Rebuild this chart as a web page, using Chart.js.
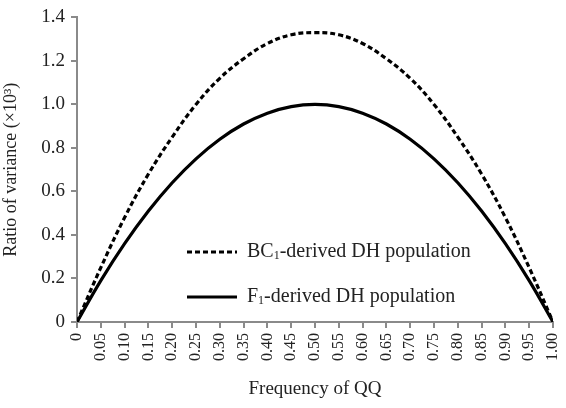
<!DOCTYPE html>
<html>
<head>
<meta charset="utf-8">
<script src="https://cdn.jsdelivr.net/npm/chart.js@4/dist/chart.umd.min.js"></script>
<style>
  html, body { margin: 0; padding: 0; background: #fff; }
  #wrap { width: 566px; height: 408px; }
</style>
</head>
<body>
<div id="wrap"><canvas id="chart" width="566" height="408"></canvas></div>
<script>
const freqQQ = [0, 0.05, 0.10, 0.15, 0.20, 0.25, 0.30, 0.35, 0.40, 0.45, 0.50,
  0.55, 0.60, 0.65, 0.70, 0.75, 0.80, 0.85, 0.90, 0.95, 1.00];
const bc1Ratio = [0, 0.25, 0.48, 0.68, 0.85, 1.00, 1.12, 1.21, 1.28, 1.32, 1.33,
  1.32, 1.28, 1.21, 1.12, 1.00, 0.85, 0.68, 0.48, 0.25, 0];
const f1Ratio = [0, 0.19, 0.36, 0.51, 0.64, 0.75, 0.84, 0.91, 0.96, 0.99, 1.00,
  0.99, 0.96, 0.91, 0.84, 0.75, 0.64, 0.51, 0.36, 0.19, 0];
const seriesNames = [["BC", "1", "-derived DH population"], ["F", "1", "-derived DH population"]];

const serif = "'Liberation Serif', 'Times New Roman', serif";
const axisGray = "#8a8a8a";

const toPts = (ys) => freqQQ.map((x, i) => ({ x, y: ys[i] }));

// legend drawn inside plot area, with subscript 1
const insideLegend = {
  id: "insideLegend",
  afterDraw(chart) {
    const ctx = chart.ctx;
    const rows = [
      { y: 252, dash: [5, 3] },
      { y: 297, dash: [] },
    ];
    rows.forEach((r, i) => {
      ctx.save();
      ctx.strokeStyle = "#000";
      ctx.lineWidth = 3.2;
      ctx.setLineDash(r.dash);
      ctx.beginPath();
      ctx.moveTo(187, r.y);
      ctx.lineTo(237, r.y);
      ctx.stroke();
      ctx.setLineDash([]);
      ctx.fillStyle = "#222";
      ctx.textBaseline = "middle";
      let x = 247;
      const [a, sub, b] = seriesNames[i];
      ctx.font = "20px " + serif;
      ctx.fillText(a, x, r.y);
      x += ctx.measureText(a).width;
      ctx.font = "12px " + serif;
      ctx.fillText(sub, x, r.y + 4);
      x += ctx.measureText(sub).width;
      ctx.font = "20px " + serif;
      ctx.fillText(b, x, r.y);
      ctx.restore();
    });
  },
};

new Chart(document.getElementById("chart"), {
  type: "line",
  data: {
    datasets: [
      {
        label: "BC1-derived DH population",
        data: toPts(bc1Ratio),
        borderColor: "#000",
        borderWidth: 3.2,
        borderDash: [5, 3],
        pointRadius: 0,
        tension: 0.4,
        fill: false,
      },
      {
        label: "F1-derived DH population",
        data: toPts(f1Ratio),
        borderColor: "#000",
        borderWidth: 3.2,
        pointRadius: 0,
        tension: 0.4,
        fill: false,
      },
    ],
  },
  options: {
    responsive: false,
    animation: false,
    layout: { padding: { top: 16, right: 13, left: 0, bottom: 0 } },
    plugins: { legend: { display: false }, tooltip: { enabled: false } },
    scales: {
      x: {
        type: "linear",
        min: 0,
        max: 1,
        afterFit: (s) => { s.height = 86; s.paddingRight = 0; s.paddingLeft = 0; },
        border: { color: axisGray, width: 2 },
        grid: { drawOnChartArea: false, drawTicks: true, tickLength: 6, color: axisGray, lineWidth: 2 },
        ticks: {
          stepSize: 0.05,
          minRotation: 90,
          maxRotation: 90,
          autoSkip: false,
          color: "#222",
          padding: 5,
          font: { family: serif, size: 16 },
          callback: (v) => (Math.abs(v) < 1e-9 ? "0" : v.toFixed(2)),
        },
        title: {
          display: true,
          text: "Frequency of QQ",
          color: "#222",
          padding: { top: 2, bottom: 8 },
          font: { family: serif, size: 19 },
        },
      },
      y: {
        min: 0,
        max: 1.4,
        afterFit: (s) => { s.width = 77; },
        border: { color: axisGray, width: 2 },
        grid: { drawOnChartArea: false, drawTicks: true, tickLength: 6, color: axisGray, lineWidth: 2 },
        ticks: {
          stepSize: 0.2,
          color: "#222",
          padding: 6,
          font: { family: serif, size: 19 },
          callback: (v) => (Math.abs(v) < 1e-9 ? "0" : v.toFixed(1)),
        },
        title: {
          display: true,
          text: "Ratio of variance (×10³)",
          color: "#222",
          padding: { top: 0, bottom: 2 },
          font: { family: serif, size: 18 },
        },
      },
    },
  },
  plugins: [insideLegend],
});
</script>
</body>
</html>
